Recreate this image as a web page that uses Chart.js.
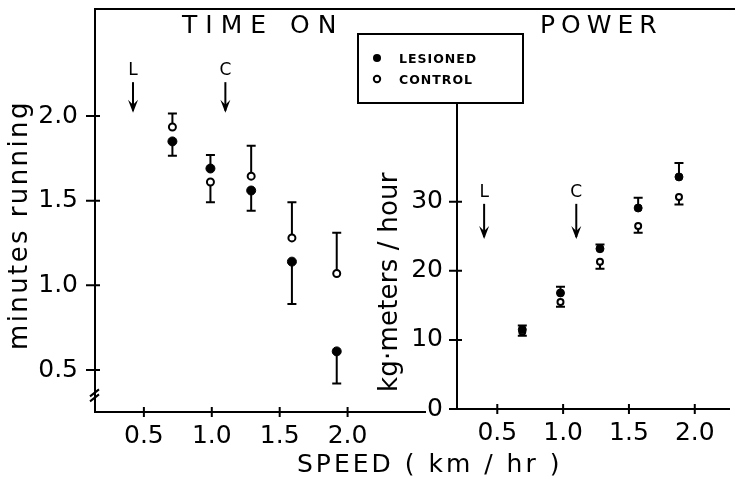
<!DOCTYPE html>
<html>
<head>
<meta charset="utf-8">
<script src="https://cdn.jsdelivr.net/npm/chart.js@4.4.1/dist/chart.umd.min.js"></script>
<style>
  html, body { margin: 0; padding: 0; background: #fff; }
  #wrap { position: relative; width: 735px; height: 478px; background: #fff; }
  #wrap canvas { position: absolute; left: 0; top: 0; }
</style>
</head>
<body>
<div id="wrap">
  <canvas id="timeChart" width="735" height="478"></canvas>
  <canvas id="powerChart" width="735" height="478"></canvas>
</div>
<script>
// speed (km/hr) of each group
const timeSpeeds = [0.71, 0.99, 1.29, 1.59, 1.92];
const powerSpeeds = [0.69, 0.98, 1.28, 1.57, 1.88];

// time on : minutes running (mean and error)
const lesionedTime = [1.85, 1.69, 1.56, 1.14, 0.61];
const lesionedTimeErr = [0.085, 0.08, 0.12, 0.25, 0.19];
const controlTime = [1.935, 1.61, 1.645, 1.28, 1.07];
const controlTimeErr = [0.08, 0.12, 0.18, 0.21, 0.24];

// power : kg-meters / hour (mean and error)
const lesionedPower = [11.5, 16.8, 23.2, 29.1, 33.6];
const lesionedPowerErr = [0.6, 0.9, 0.6, 1.5, 2.0];
const controlPower = [11.2, 15.5, 21.3, 26.5, 30.7];
const controlPowerErr = [0.6, 0.7, 1.0, 1.0, 1.1];

// tick labels
const speedTicks = [0.5, 1.0, 1.5, 2.0];
const timeTicks = [0.5, 1.0, 1.5, 2.0];
const powerTicks = [0, 10, 20, 30];

// arrows (L = lesioned, C = control)
const arrowLabels = ['L', 'C'];
const timeArrowSpeeds = [0.42, 1.10];
const powerArrowSpeeds = [0.40, 1.10];

const FONT = 'DejaVu Sans';
Chart.defaults.font.family = FONT;
Chart.defaults.color = '#000';

function pts(xs, ys) { return xs.map((x, i) => ({ x: x, y: ys[i] })); }
// error bar goes away from the other group
function dirs(a, b) { return a.map((v, i) => v >= b[i] ? 1 : -1); }

function txt(ctx, s, x, y, font, spacing) {
  ctx.font = font;
  ctx.letterSpacing = (spacing || 0) + 'px';
  ctx.textAlign = 'left';
  ctx.textBaseline = 'alphabetic';
  ctx.fillText(s, x, y);
  ctx.letterSpacing = '0px';
}

const errorBars = {
  id: 'errorBars',
  beforeDatasetsDraw(chart) {
    const { ctx, scales: { x, y } } = chart;
    ctx.save();
    ctx.strokeStyle = '#000';
    ctx.lineWidth = 2;
    chart.data.datasets.forEach(ds => {
      ds.data.forEach((p, i) => {
        const px = x.getPixelForValue(p.x);
        const py0 = y.getPixelForValue(p.y);
        const py1 = y.getPixelForValue(p.y + ds.dirs[i] * ds.errors[i]);
        ctx.beginPath();
        ctx.moveTo(px, py0); ctx.lineTo(px, py1);
        ctx.moveTo(px - 4.5, py1); ctx.lineTo(px + 4.5, py1);
        ctx.stroke();
      });
    });
    ctx.restore();
  }
};

const decor = {
  id: 'decor',
  afterDraw(chart, args, o) {
    const { ctx, chartArea: a, scales: { x, y } } = chart;
    ctx.save();
    ctx.fillStyle = '#000';
    ctx.strokeStyle = '#000';
    ctx.lineWidth = 2;

    // ticks crossing the axes
    ctx.beginPath();
    y.ticks.forEach(t => {
      const py = y.getPixelForValue(t.value);
      ctx.moveTo(a.left - o.tickOut, py); ctx.lineTo(a.left + o.tickIn, py);
    });
    x.ticks.forEach(t => {
      const px = x.getPixelForValue(t.value);
      ctx.moveTo(px, a.bottom - 5); ctx.lineTo(px, a.bottom + 5);
    });
    ctx.stroke();

    // panel title
    txt(ctx, o.title, o.titleX, 33, '25px "' + FONT + '"', o.titleSpacing);

    // rotated y title
    ctx.save();
    ctx.translate(o.yTitleX, o.yTitleY);
    ctx.rotate(-Math.PI / 2);
    txt(ctx, o.yTitle, 0, 0, '26px "' + FONT + '"', o.yTitleSpacing);
    ctx.restore();

    // arrows
    o.arrowSpeeds.forEach((s, i) => {
      const px = x.getPixelForValue(s);
      const tail = y.getPixelForValue(o.arrowTail);
      const tip = y.getPixelForValue(o.arrowTip);
      ctx.lineWidth = 2;
      ctx.beginPath();
      ctx.moveTo(px, tail); ctx.lineTo(px, tip - 2);
      ctx.stroke();
      ctx.beginPath();
      ctx.moveTo(px, tip);
      ctx.lineTo(px - 5, tip - 13);
      ctx.lineTo(px, tip - 8);
      ctx.lineTo(px + 5, tip - 13);
      ctx.closePath();
      ctx.fill();
      ctx.font = '17px "' + FONT + '"';
      ctx.textAlign = 'center';
      ctx.textBaseline = 'middle';
      ctx.fillText(arrowLabels[i], px, y.getPixelForValue(o.arrowLabel));
    });

    if (o.extra) o.extra(ctx, chart);
    ctx.restore();
  }
};

function noPad(s) { s.paddingTop = 0; s.paddingBottom = 0; s.paddingLeft = 0; s.paddingRight = 0; }

function baseScales(xMin, xMax, yMin, yMax, yTicks, yFmt, yWidth, xHeight, yPad) {
  return {
    x: {
      type: 'linear', min: xMin, max: xMax,
      afterBuildTicks: s => { s.ticks = speedTicks.map(v => ({ value: v })); },
      afterFit: s => { s.height = xHeight; noPad(s); },
      grid: { display: false, drawTicks: false },
      border: { display: true, color: '#000', width: 2 },
      ticks: { font: { size: 25 }, padding: 9, maxRotation: 0, callback: v => v.toFixed(1) }
    },
    y: {
      type: 'linear', min: yMin, max: yMax,
      afterBuildTicks: s => { s.ticks = yTicks.map(v => ({ value: v })); },
      afterFit: s => { s.width = yWidth; noPad(s); },
      grid: { display: false, drawTicks: false },
      border: { display: true, color: '#000', width: 2 },
      ticks: { font: { size: 25 }, padding: yPad, callback: yFmt }
    }
  };
}

function datasets(xs, les, lesErr, con, conErr, r) {
  return [
    {
      label: 'LESIONED', data: pts(xs, les), errors: lesErr, dirs: dirs(les, con),
      pointRadius: r, pointBackgroundColor: '#000', pointBorderColor: '#000', pointBorderWidth: 1
    },
    {
      label: 'CONTROL', data: pts(xs, con), errors: conErr, dirs: dirs(con, les),
      pointRadius: r - 1, pointBackgroundColor: '#fff', pointBorderColor: '#000', pointBorderWidth: 2
    }
  ];
}

// left panel : TIME ON
new Chart(document.getElementById('timeChart'), {
  type: 'scatter',
  data: { datasets: datasets(timeSpeeds, lesionedTime, lesionedTimeErr, controlTime, controlTimeErr, 4.5) },
  options: {
    responsive: false, animation: false,
    layout: { padding: { left: 0, top: 9, right: 310, bottom: 0 } },
    scales: baseScales(0.14, 2.57, 0.252, 2.632, timeTicks, v => v.toFixed(1), 95, 66, 17),
    plugins: {
      legend: { display: false }, tooltip: { enabled: false },
      decor: {
        tickOut: 9, tickIn: 5,
        title: 'TIME ON', titleX: 182, titleSpacing: 8,
        yTitle: 'minutes running', yTitleX: 27, yTitleY: 350, yTitleSpacing: 2.4,
        arrowSpeeds: timeArrowSpeeds, arrowTail: 2.20, arrowTip: 2.02, arrowLabel: 2.27,
        extra(ctx, chart) {
          const a = chart.chartArea;
          ctx.lineWidth = 2;
          ctx.beginPath();
          ctx.moveTo(a.left - 1, a.top); ctx.lineTo(735, a.top);
          // axis break
          const yb = chart.scales.y.getPixelForValue(0.35);
          ctx.moveTo(a.left - 5, yb + 1); ctx.lineTo(a.left + 4, yb - 6);
          ctx.moveTo(a.left - 5, yb + 6); ctx.lineTo(a.left + 4, yb - 1);
          ctx.stroke();
          txt(ctx, 'SPEED ( km / hr )', 297, 472, '25px "' + FONT + '"', 3);
        }
      }
    }
  },
  plugins: [errorBars, decor]
});

// right panel : POWER
new Chart(document.getElementById('powerChart'), {
  type: 'scatter',
  data: { datasets: datasets(powerSpeeds, lesionedPower, lesionedPowerErr, controlPower, controlPowerErr, 4) },
  options: {
    responsive: false, animation: false,
    layout: { padding: { left: 370, top: 103, right: 0, bottom: 0 } },
    scales: baseScales(0.194, 2.26, 0, 44.3, powerTicks, v => String(v), 87, 69, 14),
    plugins: {
      legend: { display: false }, tooltip: { enabled: false },
      decor: {
        tickOut: 8, tickIn: 5,
        title: 'POWER', titleX: 540, titleSpacing: 6,
        yTitle: 'kg\u00b7meters / hour', yTitleX: 397, yTitleY: 392, yTitleSpacing: 0.2,
        arrowSpeeds: powerArrowSpeeds, arrowTail: 29.7, arrowTip: 24.6, arrowLabel: 31.4,
        extra(ctx, chart) {
          // legend box
          ctx.lineWidth = 2;
          ctx.fillStyle = '#fff';
          ctx.fillRect(358, 34, 165, 69);
          ctx.strokeRect(358, 34, 165, 69);
          ctx.fillStyle = '#000';
          chart.data.datasets.forEach((ds, i) => {
            const cy = 58 + i * 21;
            ctx.beginPath();
            if (i === 0) {
              ctx.arc(377, cy, 4, 0, Math.PI * 2);
              ctx.fill();
            } else {
              ctx.arc(377, cy, 3.2, 0, Math.PI * 2);
              ctx.lineWidth = 2;
              ctx.stroke();
            }
            txt(ctx, ds.label, 399, cy + 5, 'bold 12.5px "' + FONT + '"', 1);
          });
        }
      }
    }
  },
  plugins: [errorBars, decor]
});
</script>
</body>
</html>
